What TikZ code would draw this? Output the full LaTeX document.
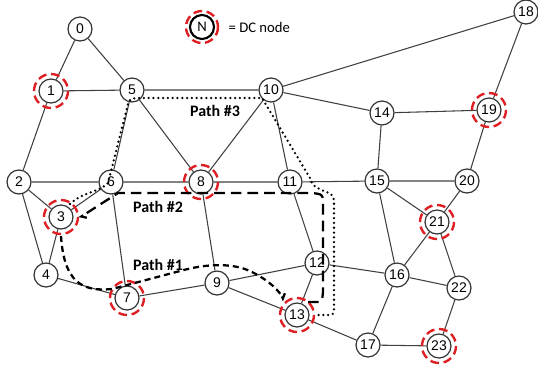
\documentclass[tikz,border=0pt]{standalone}
\usepackage{fontspec}
\setmainfont{Liberation Sans}
\newfontfamily\pathfont{Carlito}
\usetikzlibrary{arrows.meta}
\definecolor{dcred}{RGB}{222,32,36}

\begin{document}
\begin{tikzpicture}[x=0.75pt, y=-0.75pt,
    router/.style={circle, draw=black!80, line width=0.9pt, fill=white,
        minimum size=18pt, inner sep=0pt, font=\fontsize{10.5}{11}\selectfont},
    link/.style={draw=black!75, line width=0.8pt},
    dcring/.style={draw=dcred, line width=1.8pt, dash pattern=on 6.5pt off 3.5pt},
    pathlabel/.style={font=\pathfont\bfseries\fontsize{12}{13}\selectfont},
    pathone/.style={line width=1.7pt, dash pattern=on 4.5pt off 3pt},
    pathtwo/.style={line width=1.7pt, dash pattern=on 8pt off 4.5pt},
    paththree/.style={line width=1.9pt, line cap=round, dash pattern=on 0pt off 3.6pt},
    barb/.style={-{Straight Barb[harpoon, length=3pt, width=6pt, line cap=butt]}}]

        \useasboundingbox (0,0) rectangle (538,369);

        % routers
        \node[router] (n0) at (80,29) {0};
        \node[router] (n1) at (51,91) {1};
        \node[router] (n2) at (19,182) {2};
        \node[router] (n3) at (61,217) {3};
        \node[router] (n4) at (46,275) {4};
        \node[router] (n5) at (132,90) {5};
        \node[router] (n6) at (111,182) {6};
        \node[router] (n7) at (127,298) {7};
        \node[router] (n8) at (201,182) {8};
        \node[router] (n9) at (217,283) {9};
        \node[router] (n10) at (271,90) {10};
        \node[router] (n11) at (290,182) {11};
        \node[router] (n12) at (317,263) {12};
        \node[router] (n13) at (297,315) {13};
        \node[router] (n14) at (382,113) {14};
        \node[router] (n15) at (377,181) {15};
        \node[router] (n16) at (397,275) {16};
        \node[router] (n17) at (368,345) {17};
        \node[router] (n18) at (526,12) {18};
        \node[router] (n19) at (489,110) {19};
        \node[router] (n20) at (467,181) {20};
        \node[router] (n21) at (437,222) {21};
        \node[router] (n22) at (459,288) {22};
        \node[router] (n23) at (439,346) {23};

        % links
        \draw[link] (n0) -- (n1) (n0) -- (n5) (n1) -- (n5) (n1) -- (n2)
            (n5) -- (n10) (n5) -- (n6) (n5) -- (n8) (n10) -- (n8)
            (n10) -- (n11) (n10) -- (n18) (n10) -- (n14) (n14) -- (n19)
            (n14) -- (n15) (n18) -- (n19) (n19) -- (n20);
        \draw[link] (n2) -- (n6) (n6) -- (n8) (n8) -- (n11) (n11) -- (n15)
            (n15) -- (n20) (n2) -- (n3) (n2) -- (n4) (n3) -- (n6)
            (n3) -- (n4) (n6) -- (n7) (n8) -- (n9) (n4) -- (n7);
        \draw[link] (n7) -- (n9) (n9) -- (n12) (n9) -- (n13) (n11) -- (n12)
            (n12) -- (n13) (n12) -- (n16) (n15) -- (n16) (n15) -- (n21)
            (n20) -- (n21) (n21) -- (n16) (n21) -- (n22) (n16) -- (n22)
            (n16) -- (n17) (n13) -- (n17) (n17) -- (n23) (n22) -- (n23);

        % DC nodes
        \draw[dcring] (n1) circle (17) (n3) circle (17) (n7) circle (17)
            (n8) circle (17) (n13) circle (17) (n19) circle (17)
            (n21) circle (17) (n23) circle (17);

        % legend
        \node[router, line width=1.6pt, draw=black, font=\pathfont\fontsize{11}{12}\selectfont]
            (legnode) at (202,27) {N};
        \draw[dcring] (legnode) circle (16);
        \node[anchor=west, font=\pathfont\fontsize{11}{12}\selectfont] (legtext) at (224,27) {= DC node};

        % #######################################

        % Path #1
        \draw[pathone, barb] (61,236) .. controls (64,282) and (82,292) .. (112,289)
            -- (180,271) .. controls (205,264) and (232,262) .. (252,272)
            .. controls (270,281) and (280,292) .. (284,301);
        \node[pathlabel] (lab1) at (158,265) {Path \#1};

        % Path #2
        \draw[pathtwo, barb] (308,302) -- (316,302) .. controls (322,302) .. (323,292)
            -- (323,206) .. controls (323,194) .. (311,193) -- (118,193) -- (79,218);
        \node[pathlabel] (lab2) at (158,207) {Path \#2};

        % Path #3
        \draw[paththree] (70,204) .. controls (82,192) and (100,192) .. (108,183)
            -- (128,104) .. controls (130,99) .. (137,98) -- (262,98)
            -- (310,178) .. controls (313,186) .. (324,191)
            .. controls (334,195) .. (334,206) -- (334,305)
            .. controls (334,315) .. (326,315) -- (314,315);
        \node[pathlabel] (lab3) at (215,111) {Path \#3};

\end{tikzpicture}
\end{document}
